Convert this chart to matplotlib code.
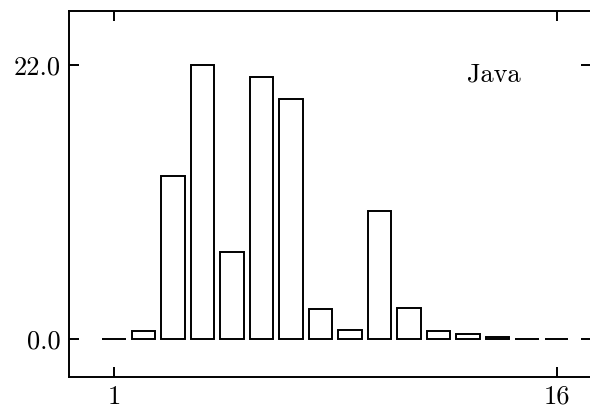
import numpy as np
import matplotlib.pyplot as plt

plt.rcParams['font.family'] = ['cmr10', 'DejaVu Serif']
plt.rcParams['axes.formatter.use_mathtext'] = True

# data
bins = np.arange(1, 17)
counts = [0.0, 0.6, 13.1, 22.0, 7.0, 21.05, 19.3, 2.37,
          0.7, 10.25, 2.45, 0.64, 0.38, 0.16, 0.0, 0.0]
xtick_vals = [1, 16]
ytick_vals = [0.0, 22.0]
label = "Java"

fig = plt.figure(figsize=(5.9, 4.09), dpi=100)
ax = fig.add_axes([0.1175, 0.079, 0.8845, 0.894])

ax.bar(bins, counts, width=0.8, facecolor='white', edgecolor='black',
       linewidth=1.4)

ax.set_xlim(-0.52, 17.17)
ax.set_ylim(-3.06, 26.37)

ax.set_xticks(xtick_vals)
ax.set_xticklabels([str(v) for v in xtick_vals])
ax.set_yticks(ytick_vals)
ax.set_yticklabels(["%.1f" % v for v in ytick_vals])

ax.tick_params(direction='in', length=7, width=1.4, labelsize=19,
               top=True, right=True, pad=6)
for s in ax.spines.values():
    s.set_linewidth(1.4)

ax.text(0.8135, 0.825, label, transform=ax.transAxes, fontsize=19,
        ha='center', va='center')

fig.savefig('out.png', dpi=100)
